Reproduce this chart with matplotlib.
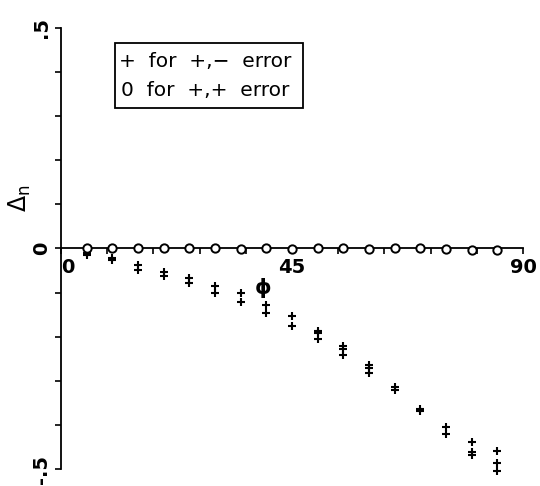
import numpy as np
import matplotlib.pyplot as plt
from matplotlib.patches import Rectangle

# angle phi (degrees) at which the errors were evaluated
phi = [5, 10, 15, 20, 25, 30, 35, 40, 45, 50, 55, 60, 65, 70, 75, 80, 85]

# +,+ error (open circles), essentially zero everywhere
err_pp = [0.0, 0.0, 0.001, 0.0, 0.0, 0.0, -0.002, 0.0, -0.002,
          0.0, 0.0, -0.002, 0.0, 0.0, -0.002, -0.003, -0.003]

# +,- error (plus signs), two or three estimates per angle
err_pm_a = [-0.010, -0.022, -0.038, -0.054, -0.068, -0.084, -0.102, -0.127, -0.152,
            -0.186, -0.222, -0.265, -0.314, -0.365, -0.405, -0.439, -0.459]
err_pm_b = [np.nan, np.nan, np.nan, np.nan, np.nan, np.nan, np.nan, np.nan, np.nan,
            -0.192, -0.229, -0.271, np.nan, np.nan, np.nan, -0.462, -0.486]
err_pm_c = [-0.014, -0.025, -0.048, -0.063, -0.079, -0.100, -0.122, -0.147, -0.176,
            -0.206, -0.242, -0.283, -0.321, -0.368, -0.421, -0.468, -0.505]

x_ticks = [0, 9, 18, 27, 36, 45, 54, 63, 72, 81, 90]
x_labels = ['0', '', '', '', '', '45', '', '', '', '', '90']
y_major = [-0.5, 0, 0.5]
y_labels = ['-.5', '0', '.5']
y_minor = [-0.4, -0.3, -0.2, -0.1, 0.1, 0.2, 0.3, 0.4]

plt.rcParams['font.family'] = ['DejaVu Sans']

fig = plt.figure(figsize=(5.4, 4.86), dpi=100)
ax = fig.add_axes([61 / 540, 1 - 469 / 486, 462 / 540, 441 / 486])

for s in ['top', 'right']:
    ax.spines[s].set_visible(False)
ax.spines['bottom'].set_position(('data', 0))
ax.spines['bottom'].set_linewidth(1.3)
ax.spines['left'].set_linewidth(1.3)

ax.set_xlim(0, 90)
ax.set_ylim(-0.5, 0.5)

ax.set_xticks(x_ticks, x_labels, fontsize=14, fontweight='bold')
ax.xaxis.get_ticklabels()[0].set_ha('left')
ax.set_yticks(y_major, y_labels, fontsize=14, fontweight='bold',
              rotation=90, va='center')
ax.set_yticks(y_minor, minor=True)
ax.tick_params(axis='both', which='both', direction='out', length=4,
               width=1.2, color='black')
ax.tick_params(axis='x', pad=3)
ax.tick_params(axis='y', pad=3)

for ys in [err_pm_a, err_pm_b, err_pm_c]:
    ax.plot(phi, ys, linestyle='none', marker='+', markersize=5.5,
            markeredgewidth=1.5, color='black', clip_on=False, zorder=3)
ax.plot(phi, err_pp, linestyle='none', marker='o', markersize=6,
        markeredgewidth=1.4, markerfacecolor='white',
        markeredgecolor='black', clip_on=False, zorder=4)

ax.set_xlabel('\u03d5', fontsize=15, fontweight='bold')
ax.xaxis.set_label_coords(0.437, 0.432)
ax.set_ylabel(r'$\Delta_\mathrm{n}$', fontsize=17)
ax.yaxis.set_label_coords(-0.061, 0.615)

# key box drawn as plain text inside a frame
ax.add_patch(Rectangle((10.5, 0.319), 36.6, 0.147, fill=False,
                       linewidth=1.3, edgecolor='black', zorder=5))
ax.text(11.3, 0.425, '+  for  +,\u2212  error', fontsize=14.5,
        va='center', ha='left', zorder=6)
ax.text(11.6, 0.358, '0  for  +,+  error', fontsize=14.5,
        va='center', ha='left', zorder=6)

fig.savefig('out.png', dpi=100)
